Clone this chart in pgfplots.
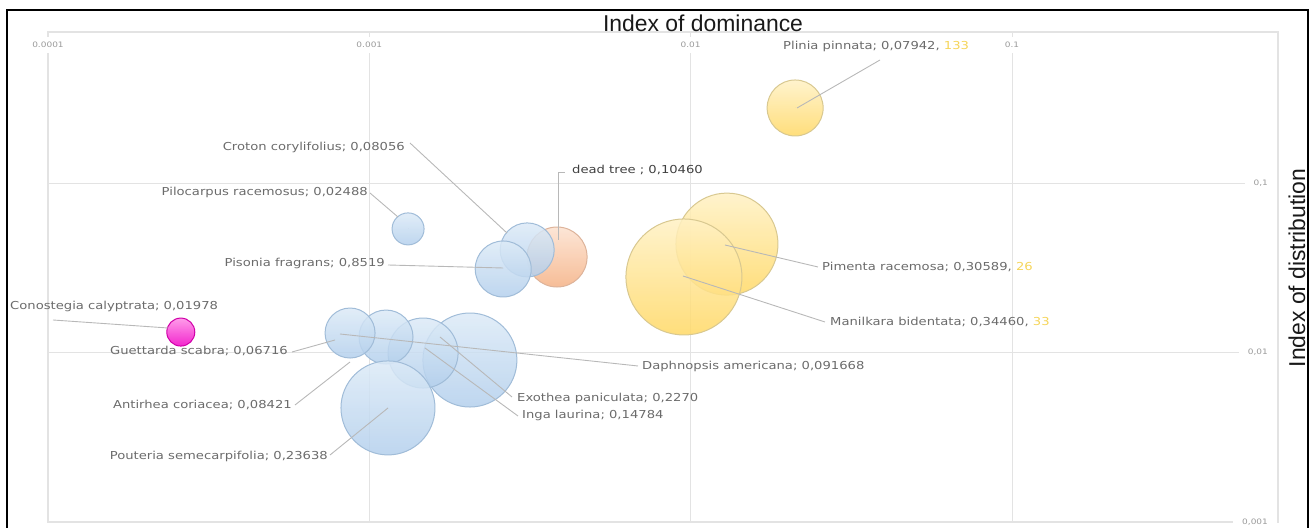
\documentclass[border=0pt]{standalone}
\usepackage{pgfplots}
\pgfplotsset{compat=1.18}
\usepackage{fontspec}
\setmainfont{DejaVu Sans}
\newfontfamily\labfont[FakeStretch=1.2]{DejaVu Sans}
\newfontfamily\titfont{Liberation Sans}
\definecolor{gridc}{HTML}{E3E3E3}
\definecolor{tickc}{HTML}{9A9A9A}
\definecolor{labc}{HTML}{6B6B6B}
\definecolor{linec}{HTML}{B8B8B8}
\definecolor{bTop}{HTML}{DCEAF7}\definecolor{bBot}{HTML}{B3CFEC}\definecolor{bDraw}{HTML}{A0BCD8}
\definecolor{yTop}{HTML}{FFF1C4}\definecolor{yBot}{HTML}{FFD864}\definecolor{yDraw}{HTML}{D8C890}
\definecolor{oTop}{HTML}{FCE1CF}\definecolor{oBot}{HTML}{F5B184}\definecolor{oDraw}{HTML}{DDB39A}
\definecolor{mTop}{HTML}{FF8AE6}\definecolor{mBot}{HTML}{F000C4}\definecolor{mDraw}{HTML}{D000A8}
\definecolor{numy}{HTML}{F5D55A}

% x (dominance), y (distribution), r (bubble radius, bp)
\pgfplotstableread{
x y r
0.01297 0.0436 51
0.00953 0.0279 58
0.02114 0.2771 28
}\yellowdata
\pgfplotstableread{
x y r
0.00384 0.0366 30
}\orangedata
\pgfplotstableread{
x y r
0.000259 0.0132 14
}\magentadata
\pgfplotstableread{
x y r
0.002056 0.00903 47
0.00147 0.00993 35
0.001127 0.01234 27
0.000871 0.01303 25
0.001143 0.00471 47
0.00132 0.0536 16
0.00310 0.0403 27
0.00261 0.0311 28
}\bluedata

\pgfplotsset{
  bub/.style n args={3}{only marks, scatter, mark=*, mark size=0pt,
    mark options={draw=none,fill=none},
    visualization depends on={\thisrow{r}\as\rad},
    scatter/@pre marker code/.code={\scope
      \shade[top color=#1, bottom color=#2, draw=#3, line width=1bp, fill opacity=0.85]
        (canvas cs:x=0pt,y=0pt) circle[radius=\rad bp];},
    scatter/@post marker code/.code={\endscope}},
}

\begin{document}
\begin{tikzpicture}
\begin{axis}[
  at={(48bp,6bp)}, anchor=south west, scale only axis,
  width=1230bp, height=490bp,
  xmode=log, ymode=log,
  xmin=1e-4, xmax=0.673, ymin=1e-3, ymax=0.778,
  xtick={1e-4,1e-3,1e-2,1e-1}, xticklabels={0.0001,0.001,0.01,0.1},
  ytick={1e-3,1e-2,1e-1}, yticklabels={{0,001},{0,01},{0,1}},
  minor xtick={}, minor ytick={},
  xticklabel pos=upper, yticklabel pos=upper,
  major tick length=0pt, tick style={draw=none},
  grid=major, major grid style={gridc, line width=1bp},
  axis line style={gridc, line width=1.3bp},
  xticklabel style={font=\labfont\fontsize{7.5}{8}\selectfont, text=tickc, fill=white,
    anchor=center, yshift=-13bp, inner xsep=3bp, inner ysep=5bp},
  yticklabel style={font=\labfont\fontsize{7.5}{8}\selectfont, text=tickc, fill=white,
    anchor=east, xshift=-1bp, inner xsep=9bp, inner ysep=1bp},
  clip=false,
]
\addplot[bub={oTop}{oBot}{oDraw}] table[x=x,y=y] {\orangedata};
\addplot[bub={yTop}{yBot}{yDraw}] table[x=x,y=y] {\yellowdata};
\addplot[bub={mTop}{mBot}{mDraw}] table[x=x,y=y] {\magentadata};
\addplot[bub={bTop}{bBot}{bDraw}] table[x=x,y=y] {\bluedata};
\end{axis}

% leader lines and labels (picture pixel coordinates)
\begin{scope}[x=1bp, y=-1bp, shift={(0,528bp)}]
  \begin{scope}[draw=linec, line width=0.9bp]
    \draw (797,108) -- (880,60);
    \draw (410,143) -- (507,233);
    \draw (558,240) -- (558,172) -- (565,172);
    \draw (370,193) -- (398,217);
    \draw (388,265) -- (503,268);
    \draw (725,245) -- (818,267);
    \draw (683,276) -- (825,322);
    \draw (53,320) -- (168,328);
    \draw (292,352) -- (335,340);
    \draw (638,366) -- (340,334);
    \draw (512,397) -- (440,337);
    \draw (518,416) -- (425,348);
    \draw (295,405) -- (350,362);
    \draw (330,455) -- (388,408);
  \end{scope}
  \begin{scope}[every node/.style={font=\labfont\fontsize{11}{12}\selectfont, text=labc, inner sep=0pt}]
    \node[anchor=mid west] at (783,47) {Plinia pinnata; 0,07942, \textcolor{numy}{133}};
    \node[anchor=mid east] at (405,148) {Croton corylifolius; 0,08056};
    \node[anchor=mid west, text=black!75] at (572,171) {dead tree ; 0,10460};
    \node[anchor=mid east] at (368,193) {Pilocarpus racemosus; 0,02488};
    \node[anchor=mid east] at (385,264) {Pisonia fragrans; 0,8519};
    \node[anchor=mid west] at (822,268) {Pimenta racemosa; 0,30589, \textcolor{numy}{26}};
    \node[anchor=mid west] at (10,307) {Conostegia calyptrata; 0,01978};
    \node[anchor=mid west] at (830,323) {Manilkara bidentata; 0,34460, \textcolor{numy}{33}};
    \node[anchor=mid east] at (288,352) {Guettarda scabra; 0,06716};
    \node[anchor=mid west] at (642,367) {Daphnopsis americana; 0,091668};
    \node[anchor=mid west] at (517,399) {Exothea paniculata; 0,2270};
    \node[anchor=mid east] at (292,406) {Antirhea coriacea; 0,08421};
    \node[anchor=mid west] at (522,416) {Inga laurina; 0,14784};
    \node[anchor=mid east] at (328,457) {Pouteria semecarpifolia; 0,23638};
  \end{scope}
  \node[anchor=base, inner sep=0pt, font=\titfont\fontsize{23}{24}\selectfont, text=black!90] at (703,32) {Index of dominance};
  \node[rotate=90, anchor=center, inner sep=0pt, font=\titfont\fontsize{23}{24}\selectfont, text=black!90] at (1297,268) {Index of distribution};
  \draw[line width=2bp, black] (7,530) -- (7,10) -- (1308,10) -- (1308,530);
\end{scope}
\pgfresetboundingbox
\useasboundingbox (0,0) rectangle (1311bp,528bp);
\end{tikzpicture}
\end{document}
